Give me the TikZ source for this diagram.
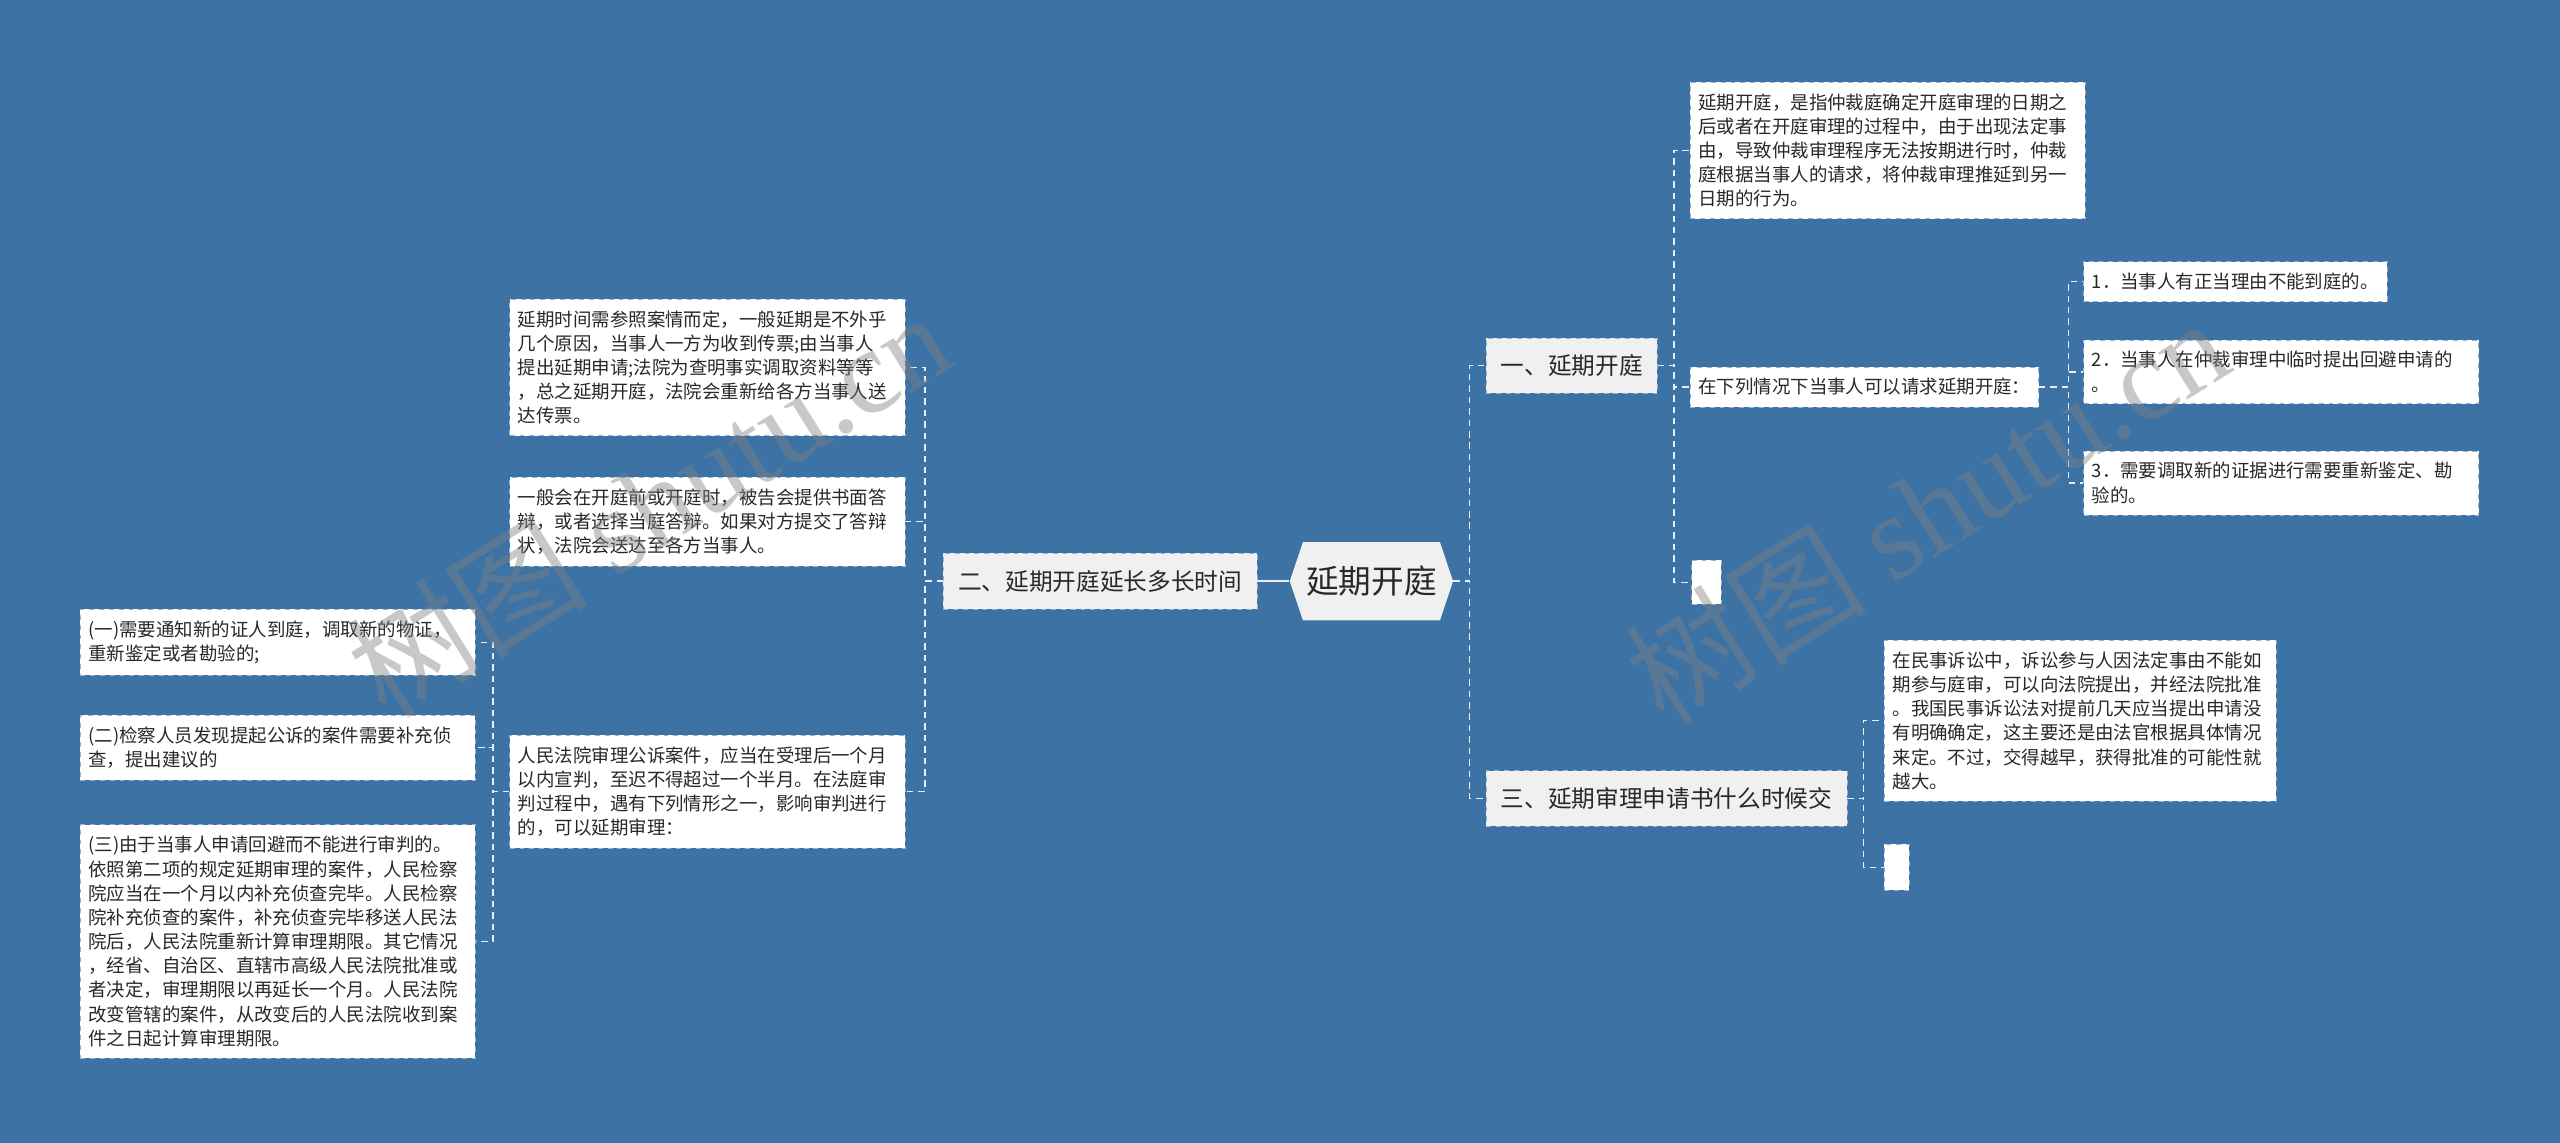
\documentclass[tikz,border=0pt]{standalone}
\usepackage{fontspec}
\setmainfont{Noto Sans CJK SC}
\newfontfamily\wmlatin{Liberation Serif}
\usetikzlibrary{positioning, shapes.symbols, backgrounds}

\definecolor{bgblue}{RGB}{61,114,165}
\definecolor{boxgray}{RGB}{240,240,240}
\definecolor{edgec}{RGB}{150,178,206}
\definecolor{inkc}{RGB}{40,40,40}

\begin{document}
\begin{tikzpicture}[x=1pt, y=1pt,
  rootnode/.style={shape=signal, signal to=east and west, signal pointer angle=143,
                   fill=boxgray, minimum width=100pt, minimum height=48pt, inner sep=0pt,
                   text=inkc, font=\fontsize{20}{24}\selectfont},
  topic/.style={draw=edgec, dashed, fill=boxgray, minimum height=34pt, inner xsep=9pt,
                text=inkc, font=\fontsize{14.5}{17}\selectfont},
  note/.style={draw=edgec, dashed, fill=white, inner xsep=5pt, inner ysep=7pt,
               align=left, text=inkc, font=\fontsize{11.3}{14.8}\selectfont},
  wide/.style={note, text width=232pt},
  blank/.style={draw=edgec, dashed, fill=white, inner sep=0pt},
  link/.style={draw=white!88!bgblue, dash pattern=on 4pt off 3pt, line width=0.9pt},
  solidlink/.style={draw=white!88!bgblue, line width=1pt},
  wmark/.style={text=gray, text opacity=0.43, rotate=32, inner sep=0pt}
]

  % background and page size
  \fill[bgblue] (0,0) rectangle (1568,-700);
  \useasboundingbox (0,0) rectangle (1568,-700);

  % centre
  \node[rootnode] (root) at (840,-356) {延期开庭};

  % first level
  \node[topic, anchor=west] (b1) at (910,-224) {一、延期开庭};
  \node[topic, anchor=east] (b2) at (770,-356) {二、延期开庭延长多长时间};
  \node[topic, anchor=west] (b3) at (910,-489) {三、延期审理申请书什么时候交};

  % branch one
  \node[wide, anchor=north west] (defn) at (1035,-50) {延期开庭，是指仲裁庭确定开庭审理的日期之\\后或者在开庭审理的过程中，由于出现法定事\\由，导致仲裁审理程序无法按期进行时，仲裁\\庭根据当事人的请求，将仲裁审理推延到另一\\日期的行为。};
  \node[note, anchor=west] (ask) at (1035,-237) {在下列情况下当事人可以请求延期开庭：};
  \node[blank, minimum width=18pt, minimum height=27pt, anchor=north west] (gap1) at (1036,-343) {};

  \node[note, anchor=north west] (case1) at (1276,-160) {1．当事人有正当理由不能到庭的。};
  \node[wide, anchor=north west] (case2) at (1276,-208) {2．当事人在仲裁审理中临时提出回避申请的\\。};
  \node[wide, anchor=north west] (case3) at (1276,-276) {3．需要调取新的证据进行需要重新鉴定、勘\\验的。};

  % branch three
  \node[wide, anchor=north west, text width=230pt] (civil) at (1154,-392) {在民事诉讼中，诉讼参与人因法定事由不能如\\期参与庭审，可以向法院提出，并经法院批准\\。我国民事诉讼法对提前几天应当提出申请没\\有明确确定，这主要还是由法官根据具体情况\\来定。不过，交得越早，获得批准的可能性就\\越大。};
  \node[blank, minimum width=15pt, minimum height=28pt, anchor=north west] (gap3) at (1154,-517) {};

  % branch two
  \node[wide, anchor=north west] (span) at (312,-183) {延期时间需参照案情而定，一般延期是不外乎\\几个原因，当事人一方为收到传票;由当事人\\提出延期申请;法院为查明事实调取资料等等\\，总之延期开庭，法院会重新给各方当事人送\\达传票。};
  \node[wide, anchor=north west] (reply) at (312,-292) {一般会在开庭前或开庭时，被告会提供书面答\\辩，或者选择当庭答辩。如果对方提交了答辩\\状，法院会送达至各方当事人。};
  \node[wide, anchor=north west] (trial) at (312,-450) {人民法院审理公诉案件，应当在受理后一个月\\以内宣判，至迟不得超过一个半月。在法庭审\\判过程中，遇有下列情形之一，影响审判进行\\的，可以延期审理：};

  \node[wide, anchor=north west] (item1) at (49,-373) {(一)需要通知新的证人到庭，调取新的物证，\\重新鉴定或者勘验的;};
  \node[wide, anchor=north west] (item2) at (49,-438) {(二)检察人员发现提起公诉的案件需要补充侦\\查，提出建议的};
  \node[wide, anchor=north west] (item3) at (49,-505) {(三)由于当事人申请回避而不能进行审判的。\\依照第二项的规定延期审理的案件，人民检察\\院应当在一个月以内补充侦查完毕。人民检察\\院补充侦查的案件，补充侦查完毕移送人民法\\院后，人民法院重新计算审理期限。其它情况\\，经省、自治区、直辖市高级人民法院批准或\\者决定，审理期限以再延长一个月。人民法院\\改变管辖的案件，从改变后的人民法院收到案\\件之日起计算审理期限。};

  % connectors
  \draw[solidlink] (root.west) -- (b2.east);
  \draw[link] (root.east) -- ++(10,0) |- (b1.west);
  \draw[link] (root.east) -- ++(10,0) |- (b3.west);

  \draw[link] (b1.east) -- ++(10,0) |- (defn.west);
  \draw[link] (b1.east) -- ++(10,0) |- (ask.west);
  \draw[link] (b1.east) -- ++(10,0) |- (gap1.west);

  \draw[link] (ask.east) -- ++(18,0) |- (case1.west);
  \draw[link] (ask.east) -- ++(18,0) |- (case2.west);
  \draw[link] (ask.east) -- ++(18,0) |- (case3.west);

  \draw[link] (b3.east) -- ++(10,0) |- (civil.west);
  \draw[link] (b3.east) -- ++(10,0) |- (gap3.west);

  \draw[link] (b2.west) -- ++(-11,0) |- (span.east);
  \draw[link] (b2.west) -- ++(-11,0) |- (reply.east);
  \draw[link] (b2.west) -- ++(-11,0) |- (trial.east);

  \draw[link] (trial.west) -- ++(-10,0) |- (item1.east);
  \draw[link] (trial.west) -- ++(-10,0) |- (item2.east);
  \draw[link] (trial.west) -- ++(-10,0) |- (item3.east);

  % watermarks
  \node[wmark] (wm1) at (397,-308) {\fontsize{74}{78}\selectfont 树图 {\wmlatin shutu.cn}};
  \node[wmark] (wm2) at (1180,-312) {\fontsize{74}{78}\selectfont 树图 {\wmlatin shutu.cn}};

\end{tikzpicture}
\end{document}
